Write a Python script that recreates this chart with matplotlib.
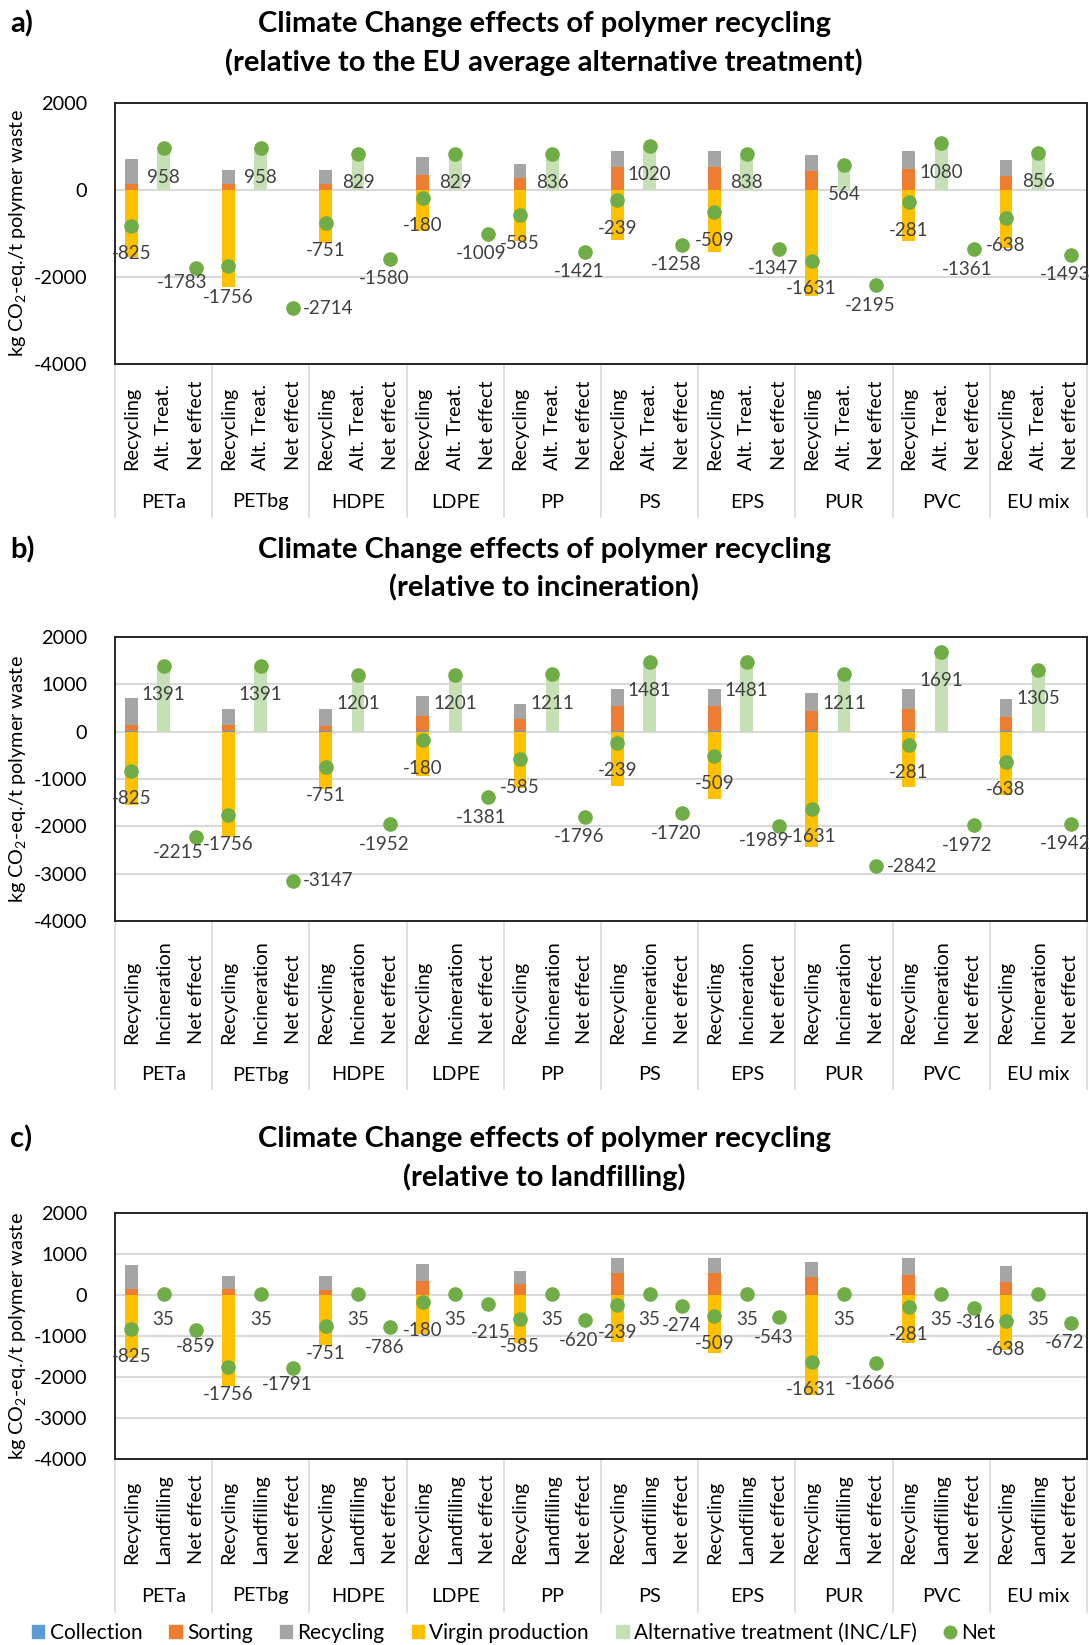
import matplotlib
matplotlib.use('Agg')
import matplotlib.pyplot as plt
from matplotlib.patches import Patch
from matplotlib.lines import Line2D
from matplotlib import transforms

plt.rcParams['font.family'] = ['Lato', 'DejaVu Sans']
plt.rcParams['mathtext.fontset'] = 'custom'
plt.rcParams['mathtext.rm'] = 'Lato'
plt.rcParams['mathtext.it'] = 'Lato:italic'

# data
polymers = ['PETa', 'PETbg', 'HDPE', 'LDPE', 'PP', 'PS', 'EPS', 'PUR', 'PVC', 'EU mix']
collection = [10, 10, 10, 10, 10, 10, 10, 10, 10, 10]
sorting = [130, 130, 120, 330, 265, 525, 525, 435, 470, 310]
recycling = [580, 330, 340, 420, 320, 370, 370, 370, 415, 380]
virgin = [-1545, -2226, -1221, -940, -1180, -1144, -1414, -2446, -1176, -1338]
rec_net = [-825, -1756, -751, -180, -585, -239, -509, -1631, -281, -638]

alt_a = [958, 958, 829, 829, 836, 1020, 838, 564, 1080, 856]
net_a = [-1783, -2714, -1580, -1009, -1421, -1258, -1347, -2195, -1361, -1493]
alt_b = [1391, 1391, 1201, 1201, 1211, 1481, 1481, 1211, 1691, 1305]
net_b = [-2215, -3147, -1952, -1381, -1796, -1720, -1989, -2842, -1972, -1942]
alt_c = [35, 35, 35, 35, 35, 35, 35, 35, 35, 35]
net_c = [-859, -1791, -786, -215, -620, -274, -543, -1666, -316, -672]

W, H = 1089, 1645
C_COL = '#5B9BD5'
C_SORT = '#ED7D31'
C_REC = '#A5A5A5'
C_VIR = '#FFC000'
C_ALT = '#C5E0B4'
C_NET = '#70AD47'
TXT = '#404040'
FS_LAB = 13.5
FS_AX = 14.3
FS_TITLE = 21

fig = plt.figure(figsize=(W / 100, H / 100), dpi=100)


def panel(top, bottom, alt, net, alt_name, yticks, title2, letter, title_y,
          lab_base, grp_off, div_len, alt_dy, moved):
    left, right = 115, 1087
    ax = fig.add_axes([left / W, 1 - bottom / H, (right - left) / W, (bottom - top) / H])
    hpx = bottom - top
    x_rec = [3 * i for i in range(10)]
    x_alt = [3 * i + 1 for i in range(10)]
    x_net = [3 * i + 2 for i in range(10)]
    bw = 0.39

    ax.bar(x_rec, collection, bw, color=C_COL, zorder=2)
    ax.bar(x_rec, sorting, bw, bottom=collection, color=C_SORT, zorder=2)
    base = [c + s for c, s in zip(collection, sorting)]
    ax.bar(x_rec, recycling, bw, bottom=base, color=C_REC, zorder=2)
    ax.bar(x_rec, virgin, bw, color=C_VIR, zorder=2)
    ax.bar(x_alt, alt, bw, color=C_ALT, zorder=2)

    ax.plot(x_rec, rec_net, 'o', color=C_NET, ms=9.5, zorder=3, ls='none')
    ax.plot(x_alt, alt, 'o', color=C_NET, ms=9.5, zorder=3, ls='none')
    ax.plot(x_net, net, 'o', color=C_NET, ms=9.5, zorder=3, ls='none')

    def label(kind, i, x, y, dx, dy):
        dx, dy = moved.get((kind, i), (dx, dy))
        ha = 'left' if dx > 8 else 'center'
        ax.annotate(str(y), (x, y), xytext=(dx, dy), textcoords='offset pixels',
                    ha=ha, va='center', fontsize=FS_LAB, color=TXT, zorder=4)

    for i in range(10):
        label('r', i, x_rec[i], rec_net[i], 0, -28)
        label('a', i, x_alt[i], alt[i], 0, alt_dy)
        label('n', i, x_net[i], net[i], -6, -20)

    ax.set_xlim(-0.5, 29.5)
    ax.set_ylim(-4000, 2000)
    ax.set_yticks(yticks)
    ax.set_yticklabels([str(t) for t in yticks], fontsize=FS_AX, color='black')
    ax.tick_params(axis='y', length=0, pad=20)
    ax.set_xticks([])
    ax.yaxis.grid(True, color='#D9D9D9', lw=1.5, zorder=0)
    ax.set_axisbelow(True)
    for sp in ax.spines.values():
        sp.set_color('#262626')
        sp.set_linewidth(1.4)
    ax.set_ylabel(r'kg CO$_2$-eq./t polymer waste', fontsize=FS_AX, color='black')
    ax.yaxis.set_label_coords(-(115 - 28) / (right - left), 0.5)

    trans = transforms.blended_transform_factory(ax.transData, ax.transAxes)
    cats = ['Recycling', alt_name, 'Net effect']
    for i in range(10):
        for k in range(3):
            ax.text(3 * i + k, -lab_base / hpx, cats[k], transform=trans, rotation=90,
                    ha='center', va='bottom', fontsize=FS_AX, color='black')
        ax.text(3 * i + 1, -grp_off / hpx, polymers[i], transform=trans,
                ha='center', va='center', fontsize=FS_AX, color='black')
    for i in range(11):
        ax.plot([3 * i - 0.5, 3 * i - 0.5], [0, -div_len / hpx], transform=trans,
                color='#D9D9D9', lw=1.2, clip_on=False)

    fig.text(544 / W, 1 - title_y / H, 'Climate Change effects of polymer recycling',
             ha='center', va='center', fontsize=FS_TITLE, fontweight='bold')
    fig.text(544 / W, 1 - (title_y + 38) / H, title2,
             ha='center', va='center', fontsize=FS_TITLE, fontweight='bold')
    fig.text(10 / W, 1 - title_y / H, letter, ha='left', va='center',
             fontsize=FS_TITLE, fontweight='bold')
    return ax


panel(103, 364, alt_a, net_a, 'Alt. Treat.', [-4000, -2000, 0, 2000],
      '(relative to the EU average alternative treatment)', 'a)', 24,
      106, 138, 153, -29,
      {('n', 0): (-14, -15), ('r', 1): (0, -31), ('n', 1): (10, 0)})
panel(637, 921, alt_b, net_b, 'Incineration', [-4000, -3000, -2000, -1000, 0, 1000, 2000],
      '(relative to incineration)', 'b)', 550, 123, 154, 168, -29,
      {('n', 0): (-18, -16), ('r', 1): (0, -30), ('n', 1): (10, 0), ('n', 7): (10, 0),
       ('n', 6): (-15, -15)})
panel(1213, 1459, alt_c, net_c, 'Landfilling', [-4000, -3000, -2000, -1000, 0, 1000, 2000],
      '(relative to landfilling)', 'c)', 1139, 105, 137, 153, -26,
      {('n', 0): (0, -16), ('n', 1): (-6, -16), ('n', 3): (3, -29), ('n', 5): (0, -19),
       ('n', 8): (2, -15)})

handles = [Patch(color=C_COL), Patch(color=C_SORT), Patch(color=C_REC),
           Patch(color=C_VIR), Patch(color=C_ALT),
           Line2D([], [], marker='o', color=C_NET, ls='none', ms=9)]
names = ['Collection', 'Sorting', 'Recycling', 'Virgin production',
         'Alternative treatment (INC/LF)', 'Net']
fig.legend(handles, names, loc='center', bbox_to_anchor=(514 / W, 1 - 1633 / H),
           ncol=6, frameon=False, fontsize=15, handlelength=0.6, handleheight=0.6,
           handletextpad=0.25, columnspacing=1.3)

fig.savefig('out.png', dpi=100)
